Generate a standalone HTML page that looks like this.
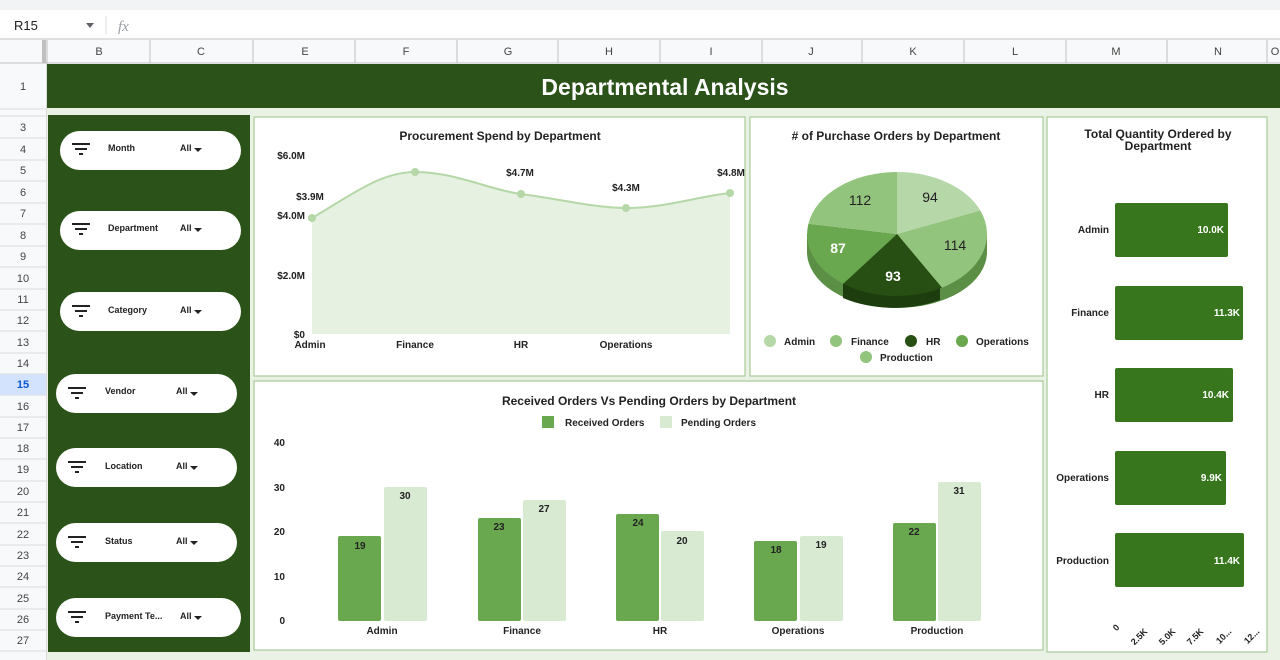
<!DOCTYPE html>
<html><head><meta charset="utf-8"><style>
html,body{margin:0;padding:0;background:#fff;}
svg{display:block;font-family:"Liberation Sans",Arial,sans-serif;}
</style></head><body>
<svg width="1280" height="660" viewBox="0 0 1280 660" xmlns="http://www.w3.org/2000/svg">
<rect x="0" y="0" width="1280" height="10" fill="#f1f3f4"/>
<rect x="0" y="10" width="1280" height="29" fill="#fff"/>
<text x="14" y="30" font-size="13" fill="#202124">R15</text>
<path d="M86 23 l8 0 l-4 5z" fill="#5f6368"/>
<line x1="106" y1="16" x2="106" y2="34" stroke="#dadce0"/>
<text x="118" y="31" font-size="15" font-style="italic" fill="#9aa0a6" font-family="Liberation Serif,serif">fx</text>
<line x1="0" y1="39" x2="1280" y2="39" stroke="#c0c0c0"/>
<rect x="0" y="40" width="1280" height="23" fill="#f8f9fa"/>
<rect x="0" y="40" width="47" height="620" fill="#f8f9fa"/>
<rect x="42" y="40" width="4" height="23" fill="#c0c0c0"/>
<g stroke="#c0c0c0" stroke-width="1">
<line x1="150" y1="40" x2="150" y2="63"/><line x1="253" y1="40" x2="253" y2="63"/><line x1="355" y1="40" x2="355" y2="63"/><line x1="457" y1="40" x2="457" y2="63"/><line x1="558" y1="40" x2="558" y2="63"/><line x1="660" y1="40" x2="660" y2="63"/><line x1="762" y1="40" x2="762" y2="63"/><line x1="862" y1="40" x2="862" y2="63"/><line x1="964" y1="40" x2="964" y2="63"/><line x1="1066" y1="40" x2="1066" y2="63"/><line x1="1167" y1="40" x2="1167" y2="63"/><line x1="1267" y1="40" x2="1267" y2="63"/>
<line x1="0" y1="63" x2="1280" y2="63"/><line x1="47" y1="40" x2="47" y2="660"/>
</g>
<g font-size="11" fill="#444" text-anchor="middle">
<text x="99" y="55">B</text><text x="201" y="55">C</text><text x="305" y="55">E</text><text x="406" y="55">F</text><text x="508" y="55">G</text><text x="609" y="55">H</text><text x="711" y="55">I</text><text x="811" y="55">J</text><text x="913" y="55">K</text><text x="1015" y="55">L</text><text x="1116" y="55">M</text><text x="1218" y="55">N</text><text x="1275" y="55">O</text>
</g>
<g font-size="11" fill="#444" text-anchor="middle">
<text x="23" y="90">1</text>
<text x="23" y="131">3</text><text x="23" y="153">4</text><text x="23" y="174">5</text><text x="23" y="196">6</text><text x="23" y="217">7</text><text x="23" y="239">8</text><text x="23" y="260">9</text><text x="23" y="282">10</text><text x="23" y="303">11</text><text x="23" y="324">12</text><text x="23" y="346">13</text><text x="23" y="367">14</text>
<rect x="0" y="374" width="46" height="21" fill="#d3e3fd"/>
<text x="23" y="388" fill="#0b57d0" font-weight="bold">15</text><text x="23" y="410">16</text><text x="23" y="431">17</text><text x="23" y="452">18</text><text x="23" y="473">19</text><text x="23" y="495">20</text><text x="23" y="516">21</text><text x="23" y="538">22</text><text x="23" y="559">23</text><text x="23" y="580">24</text><text x="23" y="602">25</text><text x="23" y="623">26</text><text x="23" y="644">27</text>
</g>
<g stroke="#dadce0"><line x1="0" y1="109" x2="47" y2="109"/><line x1="0" y1="116" x2="47" y2="116"/><line x1="0" y1="138" x2="47" y2="138"/><line x1="0" y1="160" x2="47" y2="160"/><line x1="0" y1="181" x2="47" y2="181"/><line x1="0" y1="203" x2="47" y2="203"/><line x1="0" y1="224" x2="47" y2="224"/><line x1="0" y1="246" x2="47" y2="246"/><line x1="0" y1="267" x2="47" y2="267"/><line x1="0" y1="289" x2="47" y2="289"/><line x1="0" y1="310" x2="47" y2="310"/><line x1="0" y1="331" x2="47" y2="331"/><line x1="0" y1="353" x2="47" y2="353"/><line x1="0" y1="374" x2="47" y2="374"/><line x1="0" y1="395" x2="47" y2="395"/><line x1="0" y1="417" x2="47" y2="417"/><line x1="0" y1="438" x2="47" y2="438"/><line x1="0" y1="459" x2="47" y2="459"/><line x1="0" y1="481" x2="47" y2="481"/><line x1="0" y1="502" x2="47" y2="502"/><line x1="0" y1="523" x2="47" y2="523"/><line x1="0" y1="545" x2="47" y2="545"/><line x1="0" y1="566" x2="47" y2="566"/><line x1="0" y1="587" x2="47" y2="587"/><line x1="0" y1="609" x2="47" y2="609"/><line x1="0" y1="630" x2="47" y2="630"/><line x1="0" y1="651" x2="47" y2="651"/></g>
<rect x="47" y="64" width="1233" height="44" fill="#2a5219"/>
<text x="665" y="95" font-size="23" font-weight="bold" fill="#fff" text-anchor="middle">Departmental Analysis</text>
<rect x="47" y="108" width="1233" height="552" fill="#eaf2e5"/>
<rect x="48" y="115" width="202" height="537" fill="#2a5219"/>
<g font-size="9" font-weight="bold" fill="#222">
<g><rect x="60" y="131" width="181" height="39" rx="19.5" fill="#fff"/><text x="108" y="151">Month</text><text x="180" y="151">All</text></g>
<g><rect x="60" y="211" width="181" height="39" rx="19.5" fill="#fff"/><text x="108" y="231">Department</text><text x="180" y="231">All</text></g>
<g><rect x="60" y="292" width="181" height="39" rx="19.5" fill="#fff"/><text x="108" y="313">Category</text><text x="180" y="313">All</text></g>
<g><rect x="56" y="374" width="181" height="39" rx="19.5" fill="#fff"/><text x="105" y="394">Vendor</text><text x="176" y="394">All</text></g>
<g><rect x="56" y="448" width="181" height="39" rx="19.5" fill="#fff"/><text x="105" y="469">Location</text><text x="176" y="469">All</text></g>
<g><rect x="56" y="523" width="181" height="39" rx="19.5" fill="#fff"/><text x="105" y="544">Status</text><text x="176" y="544">All</text></g>
<g><rect x="56" y="598" width="185" height="39" rx="19.5" fill="#fff"/><text x="105" y="619">Payment Te...</text><text x="180" y="619">All</text></g>
</g>
<g fill="#222">
<g transform="translate(72,143)"><rect x="0" y="0" width="18" height="2"/><rect x="3" y="5" width="12" height="2"/><rect x="7" y="10" width="4" height="2"/></g>
<g transform="translate(72,223)"><rect x="0" y="0" width="18" height="2"/><rect x="3" y="5" width="12" height="2"/><rect x="7" y="10" width="4" height="2"/></g>
<g transform="translate(72,305)"><rect x="0" y="0" width="18" height="2"/><rect x="3" y="5" width="12" height="2"/><rect x="7" y="10" width="4" height="2"/></g>
<g transform="translate(68,387)"><rect x="0" y="0" width="18" height="2"/><rect x="3" y="5" width="12" height="2"/><rect x="7" y="10" width="4" height="2"/></g>
<g transform="translate(68,461)"><rect x="0" y="0" width="18" height="2"/><rect x="3" y="5" width="12" height="2"/><rect x="7" y="10" width="4" height="2"/></g>
<g transform="translate(68,536)"><rect x="0" y="0" width="18" height="2"/><rect x="3" y="5" width="12" height="2"/><rect x="7" y="10" width="4" height="2"/></g>
<g transform="translate(68,611)"><rect x="0" y="0" width="18" height="2"/><rect x="3" y="5" width="12" height="2"/><rect x="7" y="10" width="4" height="2"/></g>
<path d="M194 148l8 0-4 4z"/><path d="M194 228l8 0-4 4z"/><path d="M194 310l8 0-4 4z"/><path d="M190 392l8 0-4 4z"/><path d="M190 466l8 0-4 4z"/><path d="M190 541l8 0-4 4z"/><path d="M194 616l8 0-4 4z"/>
</g>
<g fill="#fff" stroke="#a8cc98" stroke-width="1.2">
<rect x="254" y="117" width="491" height="259"/>
<rect x="750" y="117" width="293" height="259"/>
<rect x="1047" y="117" width="220" height="535"/>
<rect x="254" y="381" width="789" height="269"/>
</g>
<text x="500" y="140" font-size="12" font-weight="bold" fill="#222" text-anchor="middle">Procurement Spend by Department</text>
<g font-size="10" font-weight="bold" fill="#222" text-anchor="end">
<text x="305" y="159">$6.0M</text><text x="305" y="219">$4.0M</text><text x="305" y="279">$2.0M</text><text x="305" y="338">$0</text>
</g>
<path d="M312 218 C350 196,380 172,415 172 C455 172,490 190,521 194 C560 199,595 208,626 208 C665 208,700 196,730 193 L730 334 L312 334Z" fill="#e6f1e1"/>
<path d="M312 218 C350 196,380 172,415 172 C455 172,490 190,521 194 C560 199,595 208,626 208 C665 208,700 196,730 193" fill="none" stroke="#b6d7a8" stroke-width="2"/>
<g fill="#b6d7a8"><circle cx="312" cy="218" r="4"/><circle cx="415" cy="172" r="4"/><circle cx="521" cy="194" r="4"/><circle cx="626" cy="208" r="4"/><circle cx="730" cy="193" r="4"/></g>
<g font-size="10" font-weight="bold" fill="#222" text-anchor="middle">
<text x="310" y="200">$3.9M</text><text x="520" y="176">$4.7M</text><text x="626" y="191">$4.3M</text><text x="731" y="176">$4.8M</text>
<text x="310" y="348">Admin</text><text x="415" y="348">Finance</text><text x="521" y="348">HR</text><text x="626" y="348">Operations</text>
</g>
<text x="896" y="140" font-size="12" font-weight="bold" fill="#222" text-anchor="middle"># of Purchase Orders by Department</text>
<path d="M807 234 L807 252 A90 56 0 0 0 987 252 L987 234Z" fill="#5b8f45"/>
<path d="M843 280 L843 298 A90 56 0 0 0 940 300 L940 282Z" fill="#1d3d0e"/>
<g transform="translate(897,234)">
<path d="M0 0 L0 -62 A90 62 0 0 1 83.3 -23.5 Z" fill="#b6d7a8"/>
<path d="M0 0 L83.3 -23.5 A90 62 0 0 1 45 53.7 Z" fill="#93c47d"/>
<path d="M0 0 L45 53.7 A90 62 0 0 1 -53.8 49.7 Z" fill="#274e13"/>
<path d="M0 0 L-53.8 49.7 A90 62 0 0 1 -88.6 -10.3 Z" fill="#6aa84f"/>
<path d="M0 0 L-88.6 -10.3 A90 62 0 0 1 0 -62 Z" fill="#93c47d"/>
</g>
<g font-size="14" text-anchor="middle">
<text x="930" y="202" fill="#222">94</text><text x="860" y="205" fill="#222">112</text><text x="955" y="250" fill="#222">114</text>
<text x="838" y="253" fill="#fff" font-weight="bold">87</text><text x="893" y="281" fill="#fff" font-weight="bold">93</text>
</g>
<g font-size="10" font-weight="bold" fill="#222">
<circle cx="770" cy="341" r="6" fill="#b6d7a8"/><text x="784" y="345">Admin</text>
<circle cx="836" cy="341" r="6" fill="#93c47d"/><text x="851" y="345">Finance</text>
<circle cx="911" cy="341" r="6" fill="#274e13"/><text x="926" y="345">HR</text>
<circle cx="962" cy="341" r="6" fill="#6aa84f"/><text x="976" y="345">Operations</text>
<circle cx="866" cy="357" r="6" fill="#93c47d"/><text x="880" y="361">Production</text>
</g>
<text x="1158" y="138" font-size="12" font-weight="bold" fill="#222" text-anchor="middle">Total Quantity Ordered by</text>
<text x="1158" y="150" font-size="12" font-weight="bold" fill="#222" text-anchor="middle">Department</text>
<g fill="#38761d">
<rect x="1115" y="203" width="113" height="54" rx="2"/><rect x="1115" y="286" width="128" height="54" rx="2"/><rect x="1115" y="368" width="118" height="54" rx="2"/><rect x="1115" y="451" width="111" height="54" rx="2"/><rect x="1115" y="533" width="129" height="54" rx="2"/>
</g>
<g font-size="10" font-weight="bold" fill="#fff" text-anchor="end">
<text x="1224" y="233">10.0K</text><text x="1240" y="316">11.3K</text><text x="1229" y="398">10.4K</text><text x="1222" y="481">9.9K</text><text x="1240" y="564">11.4K</text>
</g>
<g font-size="10" font-weight="bold" fill="#222" text-anchor="end">
<text x="1109" y="233">Admin</text><text x="1109" y="316">Finance</text><text x="1109" y="398">HR</text><text x="1109" y="481">Operations</text><text x="1109" y="564">Production</text>
</g>
<g font-size="9" font-weight="bold" fill="#222" text-anchor="end">
<text transform="translate(1120,628) rotate(-45)">0</text><text transform="translate(1148,632) rotate(-45)">2.5K</text><text transform="translate(1176,632) rotate(-45)">5.0K</text><text transform="translate(1204,632) rotate(-45)">7.5K</text><text transform="translate(1232,632) rotate(-45)">10...</text><text transform="translate(1260,632) rotate(-45)">12...</text>
</g>
<text x="649" y="405" font-size="12" font-weight="bold" fill="#222" text-anchor="middle">Received Orders Vs Pending Orders by Department</text>
<rect x="542" y="416" width="12" height="12" fill="#6aa84f"/><text x="565" y="426" font-size="10" font-weight="bold" fill="#222">Received Orders</text>
<rect x="660" y="416" width="12" height="12" fill="#d9ead3"/><text x="681" y="426" font-size="10" font-weight="bold" fill="#222">Pending Orders</text>
<g font-size="10" font-weight="bold" fill="#222" text-anchor="end">
<text x="285" y="446">40</text><text x="285" y="491">30</text><text x="285" y="535">20</text><text x="285" y="580">10</text><text x="285" y="624">0</text>
</g>
<g fill="#6aa84f">
<rect x="338" y="536" width="43" height="85" rx="2"/><rect x="478" y="518" width="43" height="103" rx="2"/><rect x="616" y="514" width="43" height="107" rx="2"/><rect x="754" y="541" width="43" height="80" rx="2"/><rect x="893" y="523" width="43" height="98" rx="2"/>
</g>
<g fill="#d9ead3">
<rect x="384" y="487" width="43" height="134" rx="2"/><rect x="523" y="500" width="43" height="121" rx="2"/><rect x="661" y="531" width="43" height="90" rx="2"/><rect x="800" y="536" width="43" height="85" rx="2"/><rect x="938" y="482" width="43" height="139" rx="2"/>
</g>
<g font-size="10" font-weight="bold" fill="#222" text-anchor="middle">
<text x="360" y="549">19</text><text x="405" y="499">30</text><text x="499" y="530">23</text><text x="544" y="512">27</text><text x="638" y="526">24</text><text x="682" y="544">20</text><text x="776" y="553">18</text><text x="821" y="548">19</text><text x="914" y="535">22</text><text x="959" y="494">31</text>
<text x="382" y="634">Admin</text><text x="522" y="634">Finance</text><text x="660" y="634">HR</text><text x="798" y="634">Operations</text><text x="937" y="634">Production</text>
</g>
</svg>
</body></html>
